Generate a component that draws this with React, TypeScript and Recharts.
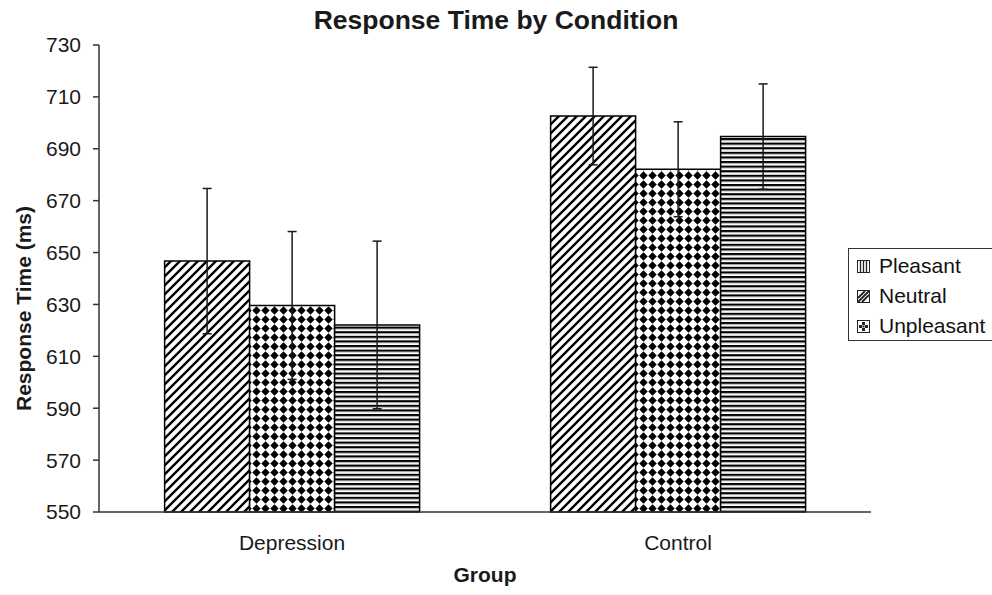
import { Bar, BarChart, ErrorBar, Legend, XAxis, YAxis } from "recharts";

const groups = ["Depression", "Control"];
const seriesNames = ["Pleasant", "Neutral", "Unpleasant"];
const pleasantMeans = [646.7, 702.6];
const pleasantErrors = [28, 18.8];
const neutralMeans = [629.6, 682.1];
const neutralErrors = [28.5, 18.3];
const unpleasantMeans = [622.1, 694.7];
const unpleasantErrors = [32.3, 20.3];
const yTicks = [550, 570, 590, 610, 630, 650, 670, 690, 710, 730];

const data = groups.map((group, i) => ({
  group,
  pleasant: pleasantMeans[i],
  pleasantErr: pleasantErrors[i],
  neutral: neutralMeans[i],
  neutralErr: neutralErrors[i],
  unpleasant: unpleasantMeans[i],
  unpleasantErr: unpleasantErrors[i],
}));

const FONT = "'Liberation Sans', Arial, sans-serif";
const INK = "#1a1a1a";

function LegendIcon({ kind }: { kind: string }) {
  return (
    <svg width={13} height={13} style={{ display: "block" }}>
      <rect x={0.5} y={0.5} width={12} height={12} fill="#fff" stroke="#222" />
      {kind === "vert" && (
        <path d="M3.5,1 V12 M6.5,1 V12 M9.5,1 V12" stroke="#222" strokeWidth={1.3} />
      )}
      {kind === "diag" && (
        <path d="M1,8 L8,1 M1,12 L12,1 M5,12 L12,5" stroke="#222" strokeWidth={1.8} />
      )}
      {kind === "dots" && (
        <g fill="#222">
          <rect x={5} y={2} width={3} height={3} />
          <rect x={2} y={5} width={3} height={3} />
          <rect x={8} y={5} width={3} height={3} />
          <rect x={5} y={8} width={3} height={3} />
          <rect x={5.5} y={5.5} width={2} height={2} />
        </g>
      )}
    </svg>
  );
}

const legendIcons = ["vert", "diag", "dots"];

function ChartLegend() {
  return (
    <div style={{ background: "#fff", paddingLeft: 6, width: 149 }}>
      <div
        style={{
          border: "1px solid #333",
          height: 93,
          paddingTop: 2,
          boxSizing: "border-box",
          background: "#fff",
        }}
      >
        {seriesNames.map((name, i) => (
          <div
            key={name}
            style={{
              display: "flex",
              alignItems: "center",
              height: 30,
              paddingLeft: 8,
              fontFamily: FONT,
              fontSize: 21,
              color: "#111",
            }}
          >
            <LegendIcon kind={legendIcons[i]} />
            <span style={{ marginLeft: 9 }}>{name}</span>
          </div>
        ))}
      </div>
    </div>
  );
}

function YTitle(props: any) {
  const vb = props.viewBox || { x: 0, y: 45, width: 99, height: 467 };
  const x = vb.x + 23;
  const y = vb.y + vb.height / 2 + 30;
  return (
    <text
      x={x}
      y={y}
      transform={`rotate(-90 ${x} ${y})`}
      textAnchor="middle"
      dominantBaseline="central"
      fontFamily={FONT}
      fontSize={21}
      fontWeight="bold"
      fill={INK}
    >
      Response Time (ms)
    </text>
  );
}

export default function App() {
  return (
    <div style={{ position: "absolute", left: 0, top: 0, width: 992, height: 595, background: "#fff" }}>
      <div
        style={{
          position: "absolute",
          left: 0,
          top: 7,
          width: 992,
          textAlign: "center",
          fontFamily: FONT,
          fontSize: 26.5,
          lineHeight: 1,
          fontWeight: "bold",
          color: INK,
          zIndex: 2,
        }}
      >
        Response Time by Condition
      </div>
      <BarChart
        width={992}
        height={595}
        data={data}
        margin={{ top: 45, right: 121, bottom: 81, left: 0 }}
        barCategoryGap="17%"
        barGap={0}
      >
        <defs>
          <pattern id="diagHatch" patternUnits="userSpaceOnUse" width={9} height={9}>
            <rect width={9} height={9} fill="#fff" />
            <path d="M-2,2 L2,-2 M0,9 L9,0 M7,11 L11,7" stroke="#000" strokeWidth={2.4} />
          </pattern>
          <pattern id="diamondDots" patternUnits="userSpaceOnUse" width={9} height={9}>
            <rect width={9} height={9} fill="#fff" />
            <polygon points="4.5,0.3 8.7,4.5 4.5,8.7 0.3,4.5" fill="#000" />
          </pattern>
          <pattern id="hStripes" patternUnits="userSpaceOnUse" width={9} height={4.6}>
            <rect width={9} height={4.6} fill="#fff" />
            <rect y={0} width={9} height={2} fill="#000" />
            <rect y={2} width={9} height={0.9} fill="#999" />
          </pattern>
        </defs>
        <XAxis
          xAxisId="cat"
          dataKey="group"
          height={1}
          axisLine={{ stroke: "#333", strokeWidth: 1.5 }}
          tickLine={false}
          tickSize={0}
          tickMargin={23}
          tick={{ fill: INK, fontSize: 21, fontFamily: FONT }}
          label={{
            value: "Group",
            position: "bottom",
            offset: 54,
            style: { fontFamily: FONT, fontSize: 21, fontWeight: "bold", fill: INK },
          }}
        />
        <XAxis
          xAxisId="mid"
          type="number"
          domain={[0, 2]}
          ticks={[1]}
          height={1}
          axisLine={false}
          tick={false}
          tickLine={{ stroke: INK, strokeWidth: 1.5 }}
          tickSize={7}
        />
        <YAxis
          domain={[550, 730]}
          ticks={yTicks}
          interval={0}
          width={99}
          axisLine={{ stroke: "#333", strokeWidth: 1.5 }}
          tickLine={{ stroke: "#333", strokeWidth: 1.5 }}
          tickSize={6}
          tickMargin={12}
          tick={{ fill: INK, fontSize: 21, fontFamily: FONT }}
          label={<YTitle />}
        />
        <Legend
          layout="horizontal"
          align="center"
          verticalAlign="middle"
          content={() => <ChartLegend />}
          wrapperStyle={{ left: 842, top: 248, width: 149, height: 93 }}
        />
        <Bar
          xAxisId="cat"
          dataKey="pleasant"
          name={seriesNames[0]}
          fill="url(#diagHatch)"
          stroke="#000"
          strokeWidth={1.5}
          isAnimationActive={false}
        >
          <ErrorBar dataKey="pleasantErr" width={4.5} strokeWidth={1.5} stroke={INK} direction="y" />
        </Bar>
        <Bar
          xAxisId="cat"
          dataKey="neutral"
          name={seriesNames[1]}
          fill="url(#diamondDots)"
          stroke="#000"
          strokeWidth={1.5}
          isAnimationActive={false}
        >
          <ErrorBar dataKey="neutralErr" width={4.5} strokeWidth={1.5} stroke={INK} direction="y" />
        </Bar>
        <Bar
          xAxisId="cat"
          dataKey="unpleasant"
          name={seriesNames[2]}
          fill="url(#hStripes)"
          stroke="#000"
          strokeWidth={1.5}
          isAnimationActive={false}
        >
          <ErrorBar dataKey="unpleasantErr" width={4.5} strokeWidth={1.5} stroke={INK} direction="y" />
        </Bar>
      </BarChart>
    </div>
  );
}
